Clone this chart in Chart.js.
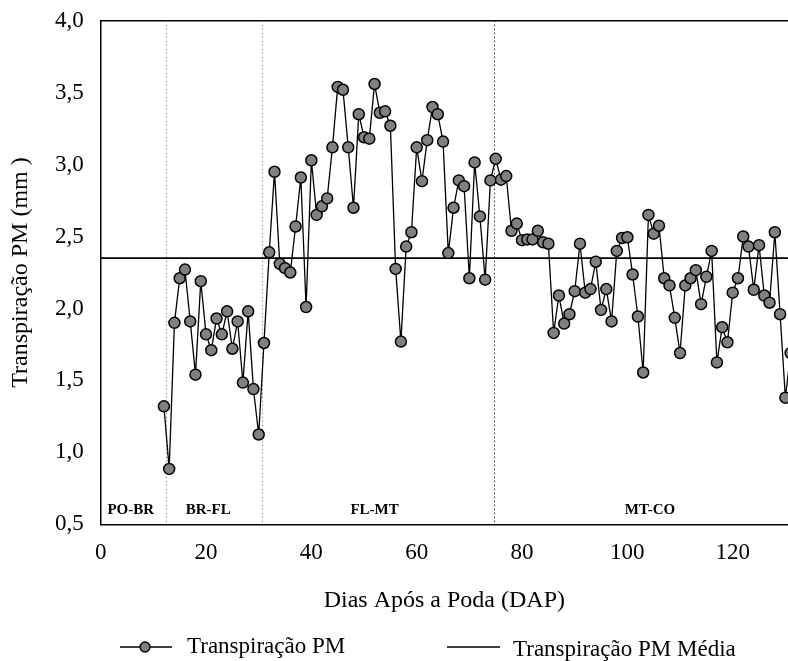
<!DOCTYPE html>
<html lang="pt">

<head>
  <meta charset="UTF-8">
  <title>Transpiração PM</title>
  <script src="https://cdn.jsdelivr.net/npm/chart.js"></script>
  <style>
    body { margin: 0; background: #fff; }
  </style>
</head>

<body>
  <canvas id="tpChart" width="788" height="661"></canvas>
  <script>
    // Dados
    const days = [12, 13, 14, 15, 16, 17, 18, 19, 20, 21, 22, 23, 24, 25, 26, 27, 28, 29, 30, 31,
      32, 33, 34, 35, 36, 37, 38, 39, 40, 41, 42, 43, 44, 45, 46, 47, 48, 49, 50, 51,
      52, 53, 54, 55, 56, 57, 58, 59, 60, 61, 62, 63, 64, 65, 66, 67, 68, 69, 70, 71,
      72, 73, 74, 75, 76, 77, 78, 79, 80, 81, 82, 83, 84, 85, 86, 87, 88, 89, 90, 91,
      92, 93, 94, 95, 96, 97, 98, 99, 100, 101, 102, 103, 104, 105, 106, 107, 108, 109, 110, 111,
      112, 113, 114, 115, 116, 117, 118, 119, 120, 121, 122, 123, 124, 125, 126, 127, 128, 129, 130, 131];

    const transpiracao = [1.32, 0.885, 1.90, 2.21, 2.27, 1.91, 1.54, 2.19, 1.82, 1.71, 1.93, 1.82, 1.98, 1.72, 1.91, 1.485, 1.98, 1.44, 1.124, 1.76,
      2.39, 2.95, 2.31, 2.28, 2.25, 2.57, 2.91, 2.01, 3.03, 2.65, 2.71, 2.765, 3.12, 3.54, 3.52, 3.12, 2.70, 3.35, 3.19, 3.18,
      3.56, 3.36, 3.37, 3.27, 2.275, 1.77, 2.43, 2.53, 3.12, 2.885, 3.17, 3.40, 3.35, 3.16, 2.385, 2.70, 2.89, 2.85, 2.21, 3.015,
      2.64, 2.20, 2.89, 3.04, 2.895, 2.92, 2.54, 2.59, 2.475, 2.48, 2.48, 2.54, 2.46, 2.45, 1.83, 2.09, 1.895, 1.96, 2.12, 2.45,
      2.11, 2.135, 2.325, 1.99, 2.135, 1.91, 2.40, 2.49, 2.495, 2.236, 1.944, 1.555, 2.65, 2.52, 2.575, 2.21, 2.16, 1.935, 1.69, 2.16,
      2.21, 2.266, 2.03, 2.22, 2.40, 1.625, 1.87, 1.765, 2.11, 2.21, 2.50, 2.43, 2.13, 2.44, 2.09, 2.04, 2.53, 1.96, 1.38, 1.69];

    const mediaTranspiracao = 2.35;

    // Fases fenológicas
    const faseLimites = [12.4, 30.6, 74.7];
    const faseNomes = ['PO-BR', 'BR-FL', 'FL-MT', 'MT-CO'];
    const faseCentros = [5.7, 20.4, 52.0, 104.3];

    const xTicks = [0, 20, 40, 60, 80, 100, 120];
    const yTicks = [0.5, 1.0, 1.5, 2.0, 2.5, 3.0, 3.5, 4.0];

    const serif = 'Liberation Serif';

    // Linhas pontilhadas, rótulos das fases, borda superior e legenda
    const extras = {
      id: 'extras',
      afterLayout(chart) {
        // a área do gráfico vai até a borda direita da figura
        const x = chart.scales.x;
        chart.chartArea.right = chart.width;
        chart.chartArea.width = chart.chartArea.right - chart.chartArea.left;
        x.right = chart.width;
        x.width = x.right - x.left;
        x.configure();
      },
      beforeDatasetsDraw(chart) {
        const { ctx, chartArea: a, scales: { x } } = chart;
        ctx.save();
        ctx.strokeStyle = '#000';
        ctx.lineWidth = 1.5;
        ctx.beginPath();
        ctx.moveTo(a.left, a.top);
        ctx.lineTo(chart.width, a.top);
        ctx.stroke();

        ctx.lineWidth = 1;
        ctx.setLineDash([1.5, 2.5]);
        faseLimites.forEach((d, i) => {
          const px = Math.round(x.getPixelForValue(d)) + 0.5;
          ctx.strokeStyle = i < 2 ? '#888' : '#333';
          ctx.beginPath();
          ctx.moveTo(px, a.top);
          ctx.lineTo(px, a.bottom);
          ctx.stroke();
        });
        ctx.setLineDash([]);

        ctx.fillStyle = '#000';
        ctx.font = 'bold 15px "' + serif + '"';
        ctx.textAlign = 'center';
        ctx.textBaseline = 'middle';
        faseNomes.forEach((n, i) => {
          ctx.fillText(n, x.getPixelForValue(faseCentros[i]), a.bottom - 14);
        });
        ctx.restore();
      },
      afterDraw(chart) {
        const { ctx } = chart;
        const ly = 647;
        ctx.save();
        ctx.strokeStyle = '#000';
        ctx.lineWidth = 1.3;
        ctx.beginPath();
        ctx.moveTo(120, ly);
        ctx.lineTo(172, ly);
        ctx.stroke();
        ctx.beginPath();
        ctx.arc(145, ly, 5, 0, Math.PI * 2);
        ctx.fillStyle = '#808080';
        ctx.fill();
        ctx.stroke();

        ctx.lineWidth = 1.5;
        ctx.beginPath();
        ctx.moveTo(447, ly);
        ctx.lineTo(500, ly);
        ctx.stroke();

        ctx.fillStyle = '#000';
        ctx.font = '23px "' + serif + '"';
        ctx.textAlign = 'left';
        ctx.textBaseline = 'middle';
        ctx.fillText('Transpiração PM', 187, ly);
        ctx.fillText('Transpiração PM Média', 513, ly + 3);
        ctx.restore();
      }
    };

    const ctx = document.getElementById('tpChart').getContext('2d');
    const tpChart = new Chart(ctx, {
      type: 'line',
      data: {
        datasets: [{
          label: 'Transpiração PM',
          data: days.map((d, i) => ({ x: d, y: transpiracao[i] })),
          borderColor: '#000',
          borderWidth: 1.3,
          pointRadius: 5.5,
          pointBackgroundColor: '#808080',
          pointBorderColor: '#000',
          pointBorderWidth: 1.5,
          tension: 0,
          fill: false,
          order: 1
        }, {
          label: 'Transpiração PM Média',
          data: [{ x: 0, y: mediaTranspiracao }, { x: 131, y: mediaTranspiracao }],
          borderColor: '#000',
          borderWidth: 1.6,
          pointRadius: 0,
          fill: false,
          order: 2
        }]
      },
      options: {
        responsive: false,
        animation: false,
        events: [],
        layout: { padding: { top: 20.7, right: 0, left: 0, bottom: 0 } },
        plugins: {
          legend: { display: false },
          tooltip: { enabled: false }
        },
        scales: {
          x: {
            type: 'linear',
            min: 0,
            max: 130.5,
            afterFit: s => { s.height = 136.7; s.paddingLeft = 0; s.paddingRight = 0; },
            afterBuildTicks: s => { s.ticks = xTicks.map(v => ({ value: v })); },
            grid: { display: false, drawOnChartArea: false, drawTicks: true, tickLength: 7, tickColor: '#000', tickWidth: 1.5 },
            border: { display: true, color: '#000', width: 1.5 },
            ticks: {
              color: '#000',
              padding: 8,
              maxRotation: 0,
              font: { family: serif, size: 23 }
            },
            title: {
              display: true,
              text: 'Dias Após a Poda (DAP)',
              color: '#000',
              font: { family: serif, size: 24 },
              padding: { top: 0, bottom: 46 }
            }
          },
          y: {
            min: 0.5,
            max: 4,
            afterFit: s => { s.width = 100.7; s.paddingTop = 0; s.paddingBottom = 0; },
            afterBuildTicks: s => { s.ticks = yTicks.map(v => ({ value: v })); },
            grid: { display: false, drawOnChartArea: false, drawTicks: true, tickLength: 7, tickColor: '#000', tickWidth: 1.5 },
            border: { display: true, color: '#000', width: 1.5 },
            ticks: {
              color: '#000',
              padding: 10,
              font: { family: serif, size: 23 },
              callback: v => v.toFixed(1).replace('.', ',')
            },
            title: {
              display: true,
              text: 'Transpiração PM (mm )',
              color: '#000',
              font: { family: serif, size: 24 },
              padding: { top: 6, bottom: 0 }
            }
          }
        }
      },
      plugins: [extras]
    });
  </script>
</body>

</html>
